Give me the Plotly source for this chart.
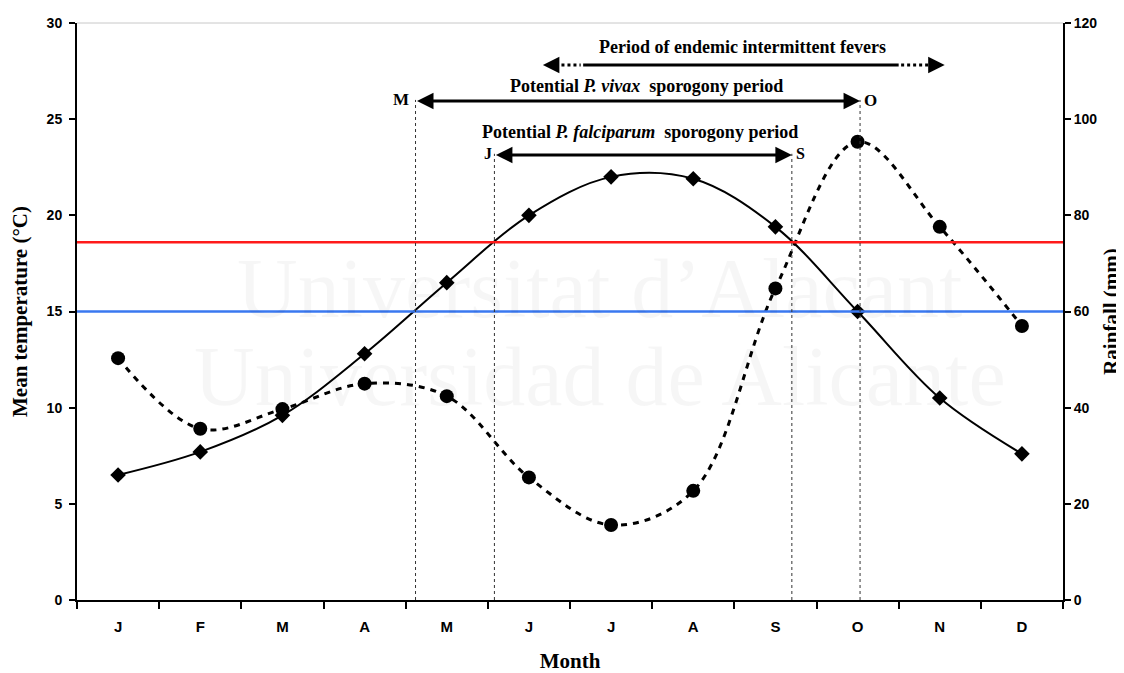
import plotly.graph_objects as go

months = ["J", "F", "M", "A", "M", "J", "J", "A", "S", "O", "N", "D"]
temperature = [6.5, 7.7, 9.6, 12.8, 16.5, 20.0, 22.0, 21.9, 19.4, 15.0, 10.5, 7.6]
rainfall = [50.3, 35.6, 39.7, 45.0, 42.4, 25.5, 15.6, 22.7, 64.8, 95.3, 77.6, 57.0]
threshold_vivax = 15.0
threshold_falciparum = 18.6

x = list(range(len(months)))

SERIF = "Liberation Serif"
SANS = "Liberation Sans"

fig = go.Figure()

fig.add_trace(go.Scatter(
    x=x, y=rainfall, yaxis="y2", mode="lines+markers",
    line=dict(color="black", width=3, dash="6px,6px", shape="spline", smoothing=1.0),
    marker=dict(symbol="circle", size=14, color="black"),
    name="Rainfall", showlegend=False,
))
fig.add_trace(go.Scatter(
    x=x, y=temperature, mode="lines+markers",
    line=dict(color="black", width=2, shape="spline", smoothing=1.0),
    marker=dict(symbol="diamond", size=12, color="black"),
    name="Temperature", showlegend=False,
))

shapes = []
shapes.append(dict(type="line", xref="paper", x0=0, x1=1, yref="y", y0=threshold_falciparum, y1=threshold_falciparum,
                   line=dict(color="#ff1a1a", width=2.5)))
shapes.append(dict(type="line", xref="paper", x0=0, x1=1, yref="y", y0=threshold_vivax, y1=threshold_vivax,
                   line=dict(color="#3a78f0", width=2.5)))
shapes.append(dict(type="line", xref="paper", x0=0, x1=1, yref="paper", y0=1, y1=1,
                   line=dict(color="#c8c8c8", width=1)))
for xv, ytop in [(3.62, 26.0), (9.03, 26.0), (4.58, 23.2), (8.20, 23.2)]:
    shapes.append(dict(type="line", xref="x", x0=xv, x1=xv, yref="y", y0=0, y1=ytop,
                       line=dict(color="#333", width=1, dash="dot")))
shapes.append(dict(type="line", xref="x", x0=5.25, x1=5.63, yref="y", y0=27.82, y1=27.82,
                   line=dict(color="black", width=3, dash="dot")))
shapes.append(dict(type="line", xref="x", x0=5.66, x1=9.50, yref="y", y0=27.82, y1=27.82,
                   line=dict(color="black", width=3)))
shapes.append(dict(type="line", xref="x", x0=9.53, x1=9.98, yref="y", y0=27.82, y1=27.82,
                   line=dict(color="black", width=3, dash="dot")))

annotations = []

def arrow(x0, x1, y, both=True, width=2.5):
    annotations.append(dict(
        x=x1, y=y, ax=x0, ay=y, xref="x", yref="y", axref="x", ayref="y",
        text="", showarrow=True, arrowhead=2, arrowsize=1.1, arrowwidth=width,
        arrowcolor="black", arrowside="end+start" if both else "end",
        standoff=0, startstandoff=0,
    ))

arrow(3.62, 9.03, 25.95, width=3)
arrow(4.58, 8.20, 23.14, width=3)
arrow(5.30, 5.17, 27.82, both=False, width=3)
arrow(9.93, 10.06, 27.82, both=False, width=3)

def label(txt, xv, yv, size=18):
    annotations.append(dict(x=xv, y=yv, xref="x", yref="y", text=txt, showarrow=False,
                            font=dict(family=SERIF, size=size, color="black", weight="bold")))

label("Period of endemic intermittent fevers", 7.6, 28.75)
label("Potential <i>P. vivax</i>  sporogony period", 6.43, 26.7)
label("Potential <i>P. falciparum</i>  sporogony period", 6.35, 24.32)
label("M", 3.44, 26.0, 17)
label("O", 9.16, 25.95, 17)
label("J", 4.5, 23.2, 16)
label("S", 8.31, 23.2, 16)

for txt, yv, sz in [("Universitat d\u2019Alacant", 16.2, 84), ("Universidad de Alicante", 11.6, 84)]:
    annotations.append(dict(x=0.53, y=yv, xref="paper", yref="y", text=txt, showarrow=False,
                            font=dict(family=SERIF, size=sz, color="rgba(0,0,0,0.035)")))

# The page body has an 8px margin, so the figure is offset by (8, 8).
fig.update_layout(
    width=1116, height=665,
    margin=dict(l=69, r=61, t=15, b=73, autoexpand=False),
    paper_bgcolor="white", plot_bgcolor="white",
    shapes=shapes, annotations=annotations,
    xaxis=dict(
        range=[-0.5, 11.5], tickmode="array", tickvals=x, ticktext=months,
        ticks="", showgrid=False, zeroline=False, automargin=False,
        showline=True, linecolor="black", linewidth=2,
        tickfont=dict(family=SANS, size=15, color="black", weight="bold"),
        ticklabelstandoff=12,
        minor=dict(tickmode="array", tickvals=[i - 0.5 for i in range(13)], ticks="outside",
                   ticklen=7, tickwidth=1.5, tickcolor="black", showgrid=False),
        title=dict(text="Month", font=dict(family=SERIF, size=21, color="black", weight="bold"), standoff=20),
    ),
    yaxis=dict(
        range=[0, 30], tickmode="array", tickvals=[0, 5, 10, 15, 20, 25, 30],
        ticks="outside", ticklen=6, tickwidth=1.5, tickcolor="black", automargin=False,
        showgrid=False, zeroline=False, showline=True, linecolor="black", linewidth=2,
        tickfont=dict(family=SANS, size=14, color="black", weight="bold"),
        ticklabelstandoff=4,
        title=dict(text="Mean temperature (\u00b0C)", font=dict(family=SERIF, size=21, color="black", weight="bold"), standoff=15),
    ),
    yaxis2=dict(
        range=[0, 120], tickmode="array", tickvals=[0, 20, 40, 60, 80, 100, 120],
        overlaying="y", side="right", anchor="x", automargin=False,
        ticks="outside", ticklen=6, tickwidth=1.5, tickcolor="black",
        showgrid=False, zeroline=False, showline=True, linecolor="black", linewidth=2,
        tickfont=dict(family=SANS, size=14, color="black", weight="bold"),
        title=dict(text="Rainfall (mm)", font=dict(family=SERIF, size=21, color="black", weight="bold"), standoff=7),
    ),
    yaxis3=dict(
        range=[0, 120], tickmode="array", tickvals=[0, 20, 40, 60, 80, 100, 120],
        overlaying="y", side="right", anchor="x", automargin=False,
        ticks="inside", ticklen=6, tickwidth=1.5, tickcolor="black",
        showticklabels=False, showgrid=False, zeroline=False, showline=False,
    ),
)

fig.write_html("out.html")
